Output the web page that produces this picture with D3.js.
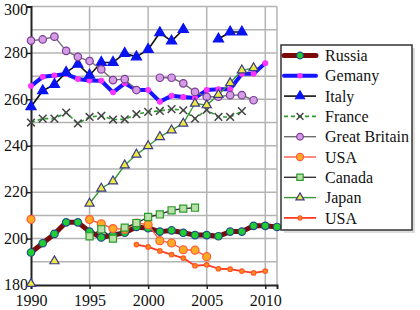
<!DOCTYPE html>
<html>
<head>
<meta charset="utf-8">
<script src="https://cdn.jsdelivr.net/npm/d3@7"></script>
<style>
  body { margin: 0; background: #fff; }
  svg { display: block; }
  svg text { font-family: "Liberation Serif", "DejaVu Serif", "Noto Serif", serif; }
</style>
</head>
<body>
<svg id="chart" width="420" height="310"></svg>
<script>
const years = [1990, 1991, 1992, 1993, 1994, 1995, 1996, 1997, 1998, 1999, 2000,
               2001, 2002, 2003, 2004, 2005, 2006, 2007, 2008, 2009, 2010, 2011];

const russia = [194, 198, 202, 207, 207, 203, 200.5, 201.5, 202.5, 205, 204.5,
                203, 203.5, 202.5, 201.5, 201.5, 201, 203, 203, 205.5, 205.5, 205];
const germany = [265.7, 269.7, 270.3, 270.9, 268.8, 268.1, 268, 263, 266.9, 264, 264,
                 259, 261.5, 261, 260.6, 264, 264.3, 264.3, 271, 271, 275.6, null];
const italy = [256.8, 263.7, 266.4, 271.6, 275.1, 270.4, 275.9, 275.9, 279.8, 278.3, 281.5,
               288.7, 285.1, 290.1, null, null, 286, 289, 289, null, null, null];
const france = [250, 251.7, 251.7, 254.3, 249.6, 252.4, 252.9, 251.3, 251.4, 253.6, 254.6,
                255, 255.8, 255.3, 251.7, 255.5, 252.4, 252.4, 254.9, null, null, null];
const britain = [285.3, 285.8, 287, 280.9, 278.3, 276.5, 272.9, 268.3, 268.7, 264, null,
                 269.3, 269.3, 266.9, 263.2, 261.1, 261.1, 261.8, 261.8, 259.6, null, null];
const usa = [208.3, null, null, null, null, 208.2, 206.4, 204.3, 204, 206.7, 206,
             199.1, 198.1, 195.2, 195, 192.2, null, null, null, null, null, null];
const canada = [null, null, null, null, null, 201, 204, 200, 204.7, 206.7, 209.3,
                210.4, 212.2, 212.9, 213.3, null, null, null, null, null, null, null];
const japan = [180.5, null, 190.3, null, null, 215.1, 221.6, 224.7, 231.6, 236.2, 239.9,
               243.8, 246.7, 249.6, 258.2, 257.5, 262, 267, 272.5, 273.5, null, null];
const usa2 = [null, null, null, null, null, null, null, null, null, 197.4, 196.4,
              194.7, 193.1, 191.6, 188.3, 188.7, 187, 186.8, 186, 185.2, 186, null];

const yTicks = [180, 200, 220, 240, 260, 280, 300];
const xTicks = [1990, 1995, 2000, 2005, 2010];

// series styling (drawn in legend order, later ones on top)
const series = [
  { name: "Russia", values: russia, line: "#7a0a0a", width: 5, symbol: "circle", size: 44, fill: "#22cc33", stroke: "#1d4f86" },
  { name: "Gemany", values: germany, line: "#1515ff", width: 4, symbol: "circle", size: 18, fill: "#ff33ff", stroke: "#ff33ff" },
  { name: "Italy", values: italy, line: "#111", width: 1.6, symbol: "triangle", size: 45, fill: "#0a14f0", stroke: "#0a14f0" },
  { name: "France", values: france, line: "#2e9a2e", width: 1.6, dash: "4,3", symbol: "times", size: 40, fill: "none", stroke: "#444" },
  { name: "Great Britain", values: britain, line: "#6e6e6e", width: 1.4, symbol: "circle", size: 44, fill: "#d59ce6", stroke: "#7c3d96" },
  { name: "USA", values: usa, line: "#ff5a4a", width: 1.4, symbol: "circle", size: 50, fill: "#ffaa22", stroke: "#ff5a3a" },
  { name: "Canada", values: canada, line: "#333", width: 1.4, symbol: "square", size: 50, fill: "#b8e0a8", stroke: "#2a9a2a" },
  { name: "Japan", values: japan, line: "#3a9a3a", width: 1.4, symbol: "triangle", size: 36, fill: "#eeea40", stroke: "#3b3b8a" },
  { name: "USA", values: usa2, line: "#ff3a22", width: 1.8, symbol: "circle", size: 16, fill: "#ff8a22", stroke: "#ff5a22" }
];

const svg = d3.select("#chart");
const margin = { left: 31, right: 143, top: 6.5, bottom: 25 };
const width = 420, height = 310;

const x = d3.scaleLinear().domain([1990, 2011]).range([margin.left, width - margin.right]);
const y = d3.scaleLinear().domain([180, 300]).range([height - margin.bottom, margin.top]);

// grid
const grid = svg.append("g").attr("stroke", "#b4b4b4").attr("stroke-width", 1.5);
grid.selectAll("line.h")
  .data(d3.range(190, 301, 10))
  .join("line")
  .attr("x1", x(1990)).attr("x2", x(2011))
  .attr("y1", d => y(d)).attr("y2", d => y(d));
grid.selectAll("line.v")
  .data([1995, 2000, 2005, 2010, 2011])
  .join("line")
  .attr("x1", d => x(d)).attr("x2", d => x(d))
  .attr("y1", y(180)).attr("y2", y(300));

// axes
const xAxis = svg.append("g")
  .attr("transform", `translate(0,${y(180)})`)
  .call(d3.axisBottom(x).tickValues(xTicks).tickFormat(d3.format("d")).tickSize(4));
const yAxis = svg.append("g")
  .attr("transform", `translate(${x(1990)},0)`)
  .call(d3.axisLeft(y).tickValues(yTicks).tickSize(4));
[xAxis, yAxis].forEach(a => {
  a.attr("font-family", null).attr("font-size", null);
  a.select(".domain").attr("stroke", "#222").attr("stroke-width", 2);
  a.selectAll(".tick line").attr("stroke", "#222").attr("stroke-width", 1.5);
  a.selectAll("text")
    .style("font-size", "16px")
    .attr("fill", "#111");
});
xAxis.selectAll("text").attr("dy", "0.85em");
yAxis.selectAll("text").attr("x", -3).attr("dy", d => d === 300 ? "0.5em" : "0.3em");

const symbolType = {
  circle: d3.symbolCircle,
  triangle: d3.symbolTriangle,
  square: d3.symbolSquare,
  times: d3.symbolTimes || d3.symbolX
};

const line = d3.line()
  .defined(d => d.v != null)
  .x(d => x(d.year))
  .y(d => y(d.v));

const plot = svg.append("g");
series.forEach(s => {
  const pts = years.map((year, i) => ({ year, v: s.values[i] }));
  const g = plot.append("g");
  g.append("path")
    .datum(pts)
    .attr("fill", "none")
    .attr("stroke", s.line)
    .attr("stroke-width", s.width)
    .attr("stroke-dasharray", s.dash || null)
    .attr("stroke-linejoin", "round")
    .attr("d", line);
  g.selectAll("path.m")
    .data(pts.filter(d => d.v != null))
    .join("path")
    .attr("class", "m")
    .attr("transform", d => `translate(${x(d.year)},${y(d.v)})`)
    .attr("d", d3.symbol(symbolType[s.symbol], s.size))
    .attr("fill", s.fill)
    .attr("stroke", s.stroke)
    .attr("stroke-width", s.symbol === "times" ? 1.5 : 1.2);
});

// legend
const lg = svg.append("g").attr("transform", "translate(281,45)");
lg.append("rect")
  .attr("x", 3).attr("y", 3).attr("width", 131).attr("height", 185)
  .attr("fill", "#bbb").attr("opacity", 0.5);
lg.append("rect")
  .attr("width", 131).attr("height", 185)
  .attr("fill", "#fff").attr("stroke", "#333").attr("stroke-width", 1.5);

const item = lg.selectAll("g.item")
  .data(series)
  .join("g")
  .attr("class", "item")
  .attr("transform", (d, i) => `translate(0,${10.5 + i * 20.3})`);
item.append("line")
  .attr("x1", 3).attr("x2", 35)
  .attr("stroke", d => d.line)
  .attr("stroke-width", d => d.width)
  .attr("stroke-linecap", d => d.width > 3 ? "round" : "butt")
  .attr("stroke-dasharray", d => d.dash || null);
item.append("path")
  .attr("transform", "translate(19,0)")
  .attr("d", d => d3.symbol(symbolType[d.symbol], d.size * 0.8)())
  .attr("fill", d => d.fill)
  .attr("stroke", d => d.stroke)
  .attr("stroke-width", d => d.symbol === "times" ? 1.5 : 1.2);
const labels = item.append("text")
  .attr("x", 44).attr("dy", "0.35em")
  .style("font-size", "16px")
  .attr("fill", "#111")
  .text(d => d.name);
// shrink legend text if the fallback font is wider than the box allows
const widest = d3.max(labels.nodes(), n => n.getComputedTextLength());
if (widest > 84) labels.style("font-size", (16 * 84 / widest).toFixed(2) + "px");
</script>
</body>
</html>
